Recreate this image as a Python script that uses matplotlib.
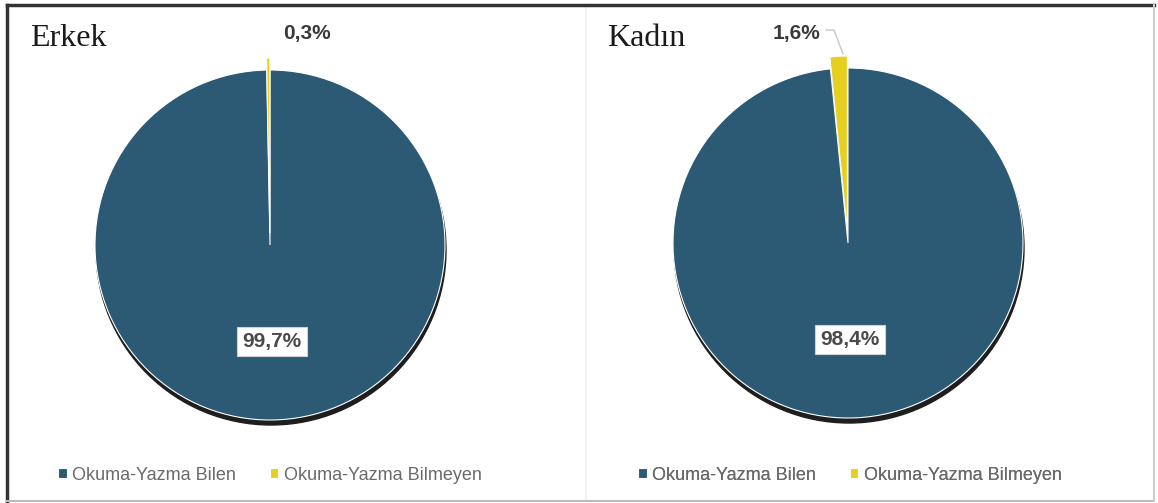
import matplotlib
matplotlib.use("Agg")
import matplotlib.pyplot as plt
from matplotlib.patches import Circle

# data
categories = ["Okuma-Yazma Bilen", "Okuma-Yazma Bilmeyen"]
groups = ["Erkek", "Kadın"]
erkek = [99.7, 0.3]
kadin = [98.4, 1.6]
values = [erkek, kadin]

colors = ["#2c5a75", "#e6cf1e"]
W, H = 1158, 503

fig = plt.figure(figsize=(W / 100, H / 100), dpi=100)
ax = fig.add_axes([0, 0, 1, 1])


def fmt(v):
    return f"{v:.1f}%".replace(".", ",")


# pixel layout: pie centre, title pos, small label pos, legend centre
panels = [
    dict(cx=270, cy=245, tx=30, lx=307, leader=False, legx=270),
    dict(cx=848, cy=243, tx=607, lx=796, leader=True, legx=850),
]
R = 175

for grp, vals, p in zip(groups, values, panels):
    cx, cy = p["cx"], H - p["cy"]
    # drop shadow under the pie
    ax.add_patch(Circle((cx + 1, cy - 5), R, color="#1e1e1e", zorder=1))
    wedges, _ = ax.pie(vals, colors=colors, startangle=90, counterclock=False,
                       radius=R, center=(cx, cy), explode=[0, 12],
                       wedgeprops=dict(edgecolor="white", linewidth=0.8))
    for w in wedges:
        w.set_zorder(2)
    # inner label
    ax.text(cx + 2, cy - 0.55 * R, fmt(vals[0]), ha="center", va="center",
            fontsize=15, fontweight="bold", color="#4a4a4a", family="Liberation Sans",
            zorder=5,
            bbox=dict(boxstyle="square,pad=0.25", fc="white", ec="#d0d0d0", lw=0.8))
    # small slice label
    ly = H - 33
    ax.text(p["lx"], ly, fmt(vals[1]), ha="center", va="center",
            fontsize=15, fontweight="bold", color="#3a3a3a", family="Liberation Sans",
            zorder=5)
    if p["leader"]:
        ax.plot([p["lx"] + 30, p["lx"] + 38, cx - 5], [ly + 3, ly + 3, cy + R + 14],
                color="#c8c8c8", lw=1, zorder=3)
    # title
    ax.text(p["tx"], H - 38, grp, ha="left", va="center", fontsize=23,
            family="Liberation Serif", color="#1a1a1a")
    # legend
    leg = ax.legend(wedges, categories, loc="center", ncol=2,
                    bbox_to_anchor=(p["legx"], H - 475), bbox_transform=ax.transData,
                    frameon=False, handlelength=0.45, handleheight=0.45,
                    handletextpad=0.3, columnspacing=1.9,
                    prop=dict(family="Liberation Sans", size=13))
    for t in leg.get_texts():
        t.set_color("#6a6a6a")
    ax.add_artist(leg)

# frame of the picture
ax.plot([7, W - 4], [H - 5, H - 5], color="#333333", lw=2.5, zorder=6)
ax.plot([7, 7], [H - 5, 2], color="#333333", lw=2.5, zorder=6)
ax.plot([7, W - 4], [2, 2], color="#bbbbbb", lw=1.5, zorder=6)
ax.plot([W - 4, W - 4], [2, H - 5], color="#cccccc", lw=1.5, zorder=6)
ax.plot([586, 586], [4, H - 8], color="#f2f2f2", lw=1.5, zorder=0)

ax.set_xlim(0, W)
ax.set_ylim(0, H)
ax.set_aspect("equal")
ax.axis("off")

fig.savefig("out.png", dpi=100, facecolor="white")
